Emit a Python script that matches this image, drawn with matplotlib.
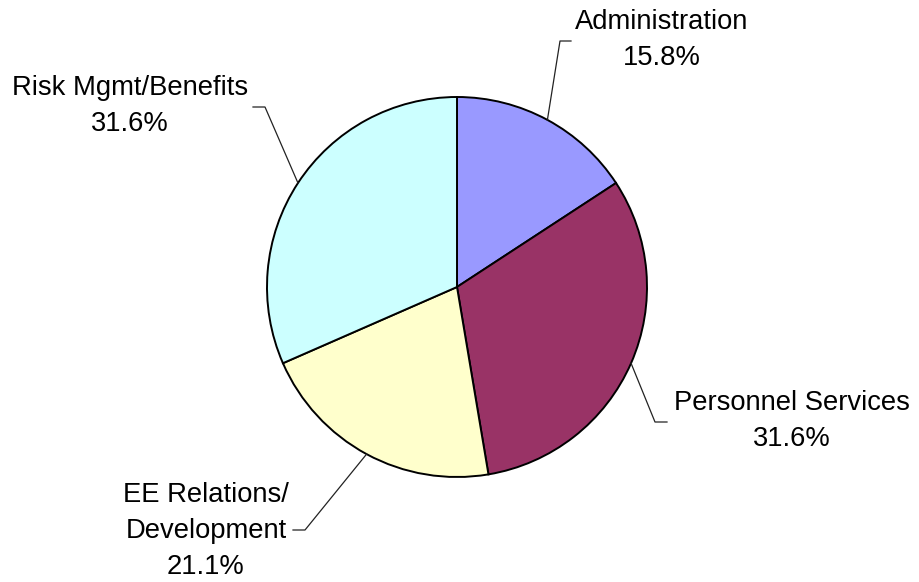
import numpy as np
import matplotlib.pyplot as plt

# department share of budget (%)
labels = ["Administration", "Personnel Services", "EE Relations/\nDevelopment", "Risk Mgmt/Benefits"]
shares = [15.8, 31.6, 21.1, 31.6]
colors = ["#9999FF", "#993366", "#FFFFCC", "#CCFFFF"]

W, H = 919, 582
plt.rcParams['font.family'] = ['Liberation Sans', 'DejaVu Sans']

fig = plt.figure(figsize=(W / 100, H / 100), dpi=100)
ax = fig.add_axes([0, 0, 1, 1])

cx, cy, r = 457, H - 287, 190
wedges, _ = ax.pie(shares, colors=colors, startangle=90, counterclock=False,
                   center=(cx, cy), radius=r,
                   wedgeprops=dict(edgecolor="black", linewidth=1.4))
ax.set_xlim(0, W)
ax.set_ylim(0, H)
ax.set_aspect("equal")
ax.axis("off")

# leader line elbows / ends and label centres (pixel layout, y from top)
elbows = [(560, 41), (655, 422), (305, 530), (265, 107)]
ends = [(571, 41), (667, 422), (293, 530), (253, 107)]
text_pos = [(662, 40), (792, 421), (206, 531), (130, 106)]

for w, lab, val, el, en, tp in zip(wedges, labels, shares, elbows, ends, text_pos):
    ang = np.deg2rad((w.theta1 + w.theta2) / 2)
    sx, sy = cx + r * np.cos(ang), cy + r * np.sin(ang)
    ax.plot([sx, el[0], en[0]], [sy, H - el[1], H - en[1]], color="#222222", lw=0.9)
    ax.text(tp[0], H - tp[1], "%s\n%.1f%%" % (lab, val), ha="center", va="center",
            multialignment="center", fontsize=19.7, linespacing=1.5, color="black")

fig.savefig("out.png", dpi=100)
